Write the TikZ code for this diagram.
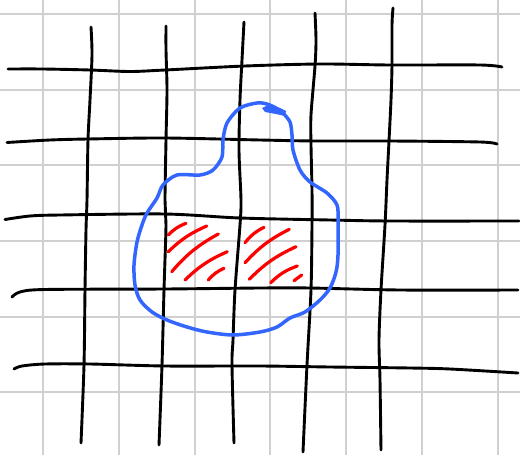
\documentclass[tikz,border=0pt]{standalone}
\definecolor{gridgray}{RGB}{208,208,208}
\definecolor{penblue}{RGB}{51,102,255}
\definecolor{penred}{RGB}{255,0,0}
\tikzset{
  paper/.style={gridgray, line width=2pt},
  ink/.style={black, line width=2.9pt, line cap=round, line join=round},
  blueink/.style={penblue, line width=3.5pt, line cap=round, line join=round},
  hatch/.style={penred, line width=3.2pt, line cap=round},
}
\begin{document}
\begin{tikzpicture}[x=1pt,y=-1pt]
\useasboundingbox (0,0) rectangle (520,455);
\fill[white] (0,0) rectangle (520,455);
% graph paper
\foreach \x in {43,119,195,270,346,422,498} \draw[paper] (\x,0) -- (\x,455);
\foreach \y in {14,90,165,241,317,392} \draw[paper] (0,\y) -- (520,\y);
% horizontal black lines
\draw[ink] plot[smooth] coordinates {(8,69) (43,69) (90,70) (130,71.5) (165,70) (245,66) (320,64) (390,65) (480,65) (502,67)};
\draw[ink] plot[smooth] coordinates {(7,142.5) (50,140) (88,139) (165,138) (260,140) (315,141) (390,141) (480,142) (497,144)};
\draw[ink] plot[smooth] coordinates {(5,219.5) (30,216) (60,215) (165,214) (240,218) (330,220) (390,221) (519,221)};
\draw[ink] plot[smooth] coordinates {(12,297) (20,292) (45,289.5) (165,289) (260,288) (310,288) (400,290) (518,290)};
\draw[ink] plot[smooth] coordinates {(14,369) (22,366) (45,364) (90,364) (165,366) (260,366) (330,367) (410,368) (450,369) (518,373)};
% vertical black lines
\draw[ink] plot[smooth] coordinates {(91,27) (92,55) (90,100) (88,140) (87,200) (86,230) (85,290) (84,365) (81,443)};
\draw[ink] plot[smooth] coordinates {(166,26) (166,50) (167,90) (166,140) (165,200) (166,225) (164,290) (162,365) (159,445)};
\draw[ink] plot[smooth] coordinates {(244,22) (242,60) (240,100) (239,150) (241,200) (240,225) (235,290) (233,340) (232,365) (234,443)};
\draw[ink] plot[smooth] coordinates {(315,13) (316,40) (315,66) (311,115) (311,145) (312,190) (312,225) (311,290) (307,365) (303,452)};
\draw[ink] plot[smooth] coordinates {(393,8) (392,25) (392,65) (391,100) (389,141) (387,180) (385,225) (381,290) (379,340) (380,380) (381,450)};
% blue region
\draw[blueink] plot[smooth] coordinates {(283,113) (290,122) (292,135) (293,150) (300,170) (310,182) (327,193) (337,205) (338,220) (338,255) (336,272) (330,288) (320,300) (305,312) (290,318) (277,327) (260,332) (233,335) (207,332) (187,327) (167,320) (152,312) (140,300) (135,285) (134,265) (137,242) (142,225) (147,213) (157,198) (163,185) (177,175) (200,175) (213,170) (222,157) (223,140) (227,123) (240,108) (257,103) (267,104) (276,108)};
\fill[penblue] (262,108) -- (270,104) -- (280,108) -- (286,111) -- (285,116) -- (276,114) -- (265,112) -- cycle;
% red hatching
\draw[hatch] (168.3,235) to[bend left=12] (186,223.3);
\draw[hatch] (168.3,251.7) to[bend left=10] (206.7,226);
\draw[hatch] (171.7,271.7) to[bend left=10] (218.3,234);
\draw[hatch] (185,280) to[bend left=10] (227.3,251.7);
\draw[hatch] (208.3,280) to[bend left=12] (224,268.3);
\draw[hatch] (245,242.7) to[bend left=12] (264,227.3);
\draw[hatch] (245,262.7) to[bend left=10] (289.3,229.3);
\draw[hatch] (249.3,279.3) to[bend left=10] (296,246.7);
\draw[hatch] (270.7,282.7) to[bend left=12] (297.3,266);
\draw[hatch] (294,280.7) to (301.7,275);
\end{tikzpicture}
\end{document}
